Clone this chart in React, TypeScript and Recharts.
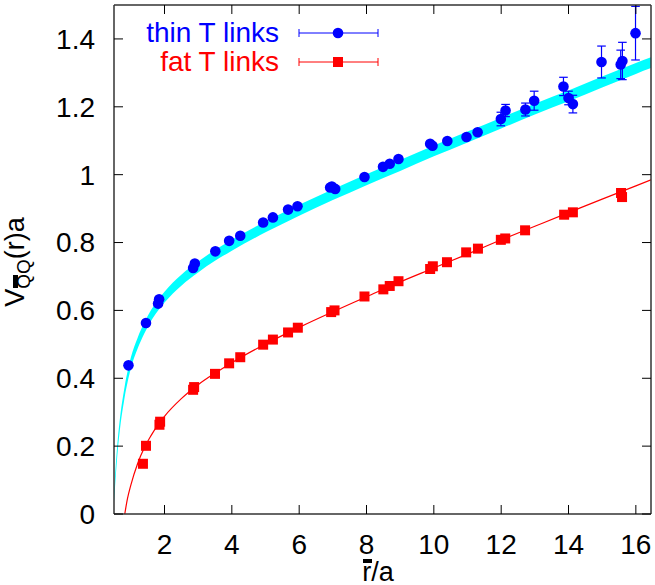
import React from 'react';
import { ComposedChart, XAxis, YAxis, Scatter, Line, Area, ErrorBar, Legend } from 'recharts';

// fit curves
const fitR = [0.5, 0.6, 0.7, 0.8, 0.82, 0.9, 1.0, 1.2, 1.4, 1.6, 1.8, 2, 2.5, 3, 3.5, 4, 5, 6, 7, 8, 9, 10, 11, 12, 13, 14, 15, 16, 16.45];
const thinFit = [0.05, 0.19, 0.285, 0.35, 0.362, 0.403, 0.445, 0.503, 0.548, 0.585, 0.614, 0.639, 0.689, 0.728, 0.762, 0.792, 0.846, 0.895, 0.941, 0.985, 1.027, 1.07, 1.111, 1.152, 1.193, 1.232, 1.273, 1.313, 1.33];
const fatFit = [null, null, null, null, 0, 0.045, 0.085, 0.148, 0.195, 0.231, 0.262, 0.288, 0.34, 0.381, 0.415, 0.446, 0.501, 0.55, 0.596, 0.64, 0.684, 0.725, 0.766, 0.808, 0.848, 0.888, 0.928, 0.967, 0.985];
const bandHalfWidth = 0.016;

// thin T links
const thinR = [0.93, 1.45, 1.81, 1.84, 2.85, 2.9, 3.51, 3.92, 4.25, 4.93, 5.22, 5.67, 5.95, 6.92, 6.97, 7.07, 7.94, 8.49, 8.69, 8.95, 9.89, 9.96, 10.4, 10.97, 11.3, 11.99, 12.13, 12.72, 12.98, 13.85, 14.0, 14.13, 14.98, 15.55, 15.6, 15.99];
const thinV = [0.438, 0.563, 0.62, 0.633, 0.725, 0.738, 0.774, 0.805, 0.82, 0.859, 0.874, 0.897, 0.907, 0.962, 0.965, 0.958, 0.993, 1.023, 1.032, 1.046, 1.091, 1.085, 1.099, 1.111, 1.125, 1.164, 1.189, 1.192, 1.218, 1.26, 1.226, 1.208, 1.332, 1.325, 1.335, 1.417];
const thinErr = [0, 0, 0, 0, 0, 0, 0, 0, 0, 0, 0, 0, 0, 0, 0, 0, 0, 0, 0, 0, 0, 0, 0, 0, 0, 0.02, 0.018, 0.019, 0.028, 0.027, 0.02, 0.026, 0.047, 0.042, 0.055, 0.079];

// fat T links
const fatR = [1.36, 1.45, 1.85, 1.87, 2.85, 2.88, 3.5, 3.92, 4.25, 4.93, 5.22, 5.67, 5.96, 6.95, 7.05, 7.94, 8.5, 8.69, 8.95, 9.89, 9.97, 10.39, 10.96, 11.31, 11.99, 12.12, 12.71, 13.87, 14.13, 15.56, 15.59];
const fatV = [0.148, 0.201, 0.263, 0.272, 0.366, 0.374, 0.413, 0.444, 0.462, 0.499, 0.514, 0.535, 0.549, 0.595, 0.6, 0.641, 0.662, 0.672, 0.686, 0.722, 0.73, 0.742, 0.771, 0.782, 0.808, 0.812, 0.836, 0.882, 0.889, 0.946, 0.934];

const xTicks = [2, 4, 6, 8, 10, 12, 14, 16];
const yTicks = [0, 0.2, 0.4, 0.6, 0.8, 1, 1.2, 1.4];
const legendLabels = ['thin T links', 'fat T links'];

const curveData = fitR.map((r, i) => ({
  r,
  band: [thinFit[i] - bandHalfWidth, thinFit[i] + bandHalfWidth],
  fat: fatFit[i],
}));
const thinData = thinR.map((r, i) => ({ r, v: thinV[i], err: thinErr[i] }));
const fatData = fatR.map((r, i) => ({ r, v: fatV[i] }));

const FONT = 'Liberation Sans, Arial, Helvetica, sans-serif';
const FS = 28;
const BLUE = '#0000ff';
const RED = '#ff0000';
const CYAN = '#00ffff';

const BlueDot = (p: any) => <circle cx={p.cx} cy={p.cy} r={5.3} fill={BLUE} />;
const RedSquare = (p: any) => <rect x={p.cx - 5} y={p.cy - 5} width={10} height={10} fill={RED} />;

const LegendBox = () => (
  <svg width={400} height={80} style={{ display: 'block' }}>
    <text x={279} y={42} textAnchor="end" fill={BLUE} fontSize={FS} fontFamily={FONT}>{legendLabels[0]}</text>
    <line x1={299} x2={378} y1={33} y2={33} stroke={BLUE} strokeWidth={1} />
    <line x1={299} x2={299} y1={29} y2={37} stroke={BLUE} strokeWidth={1} />
    <line x1={378} x2={378} y1={29} y2={37} stroke={BLUE} strokeWidth={1} />
    <circle cx={338} cy={33} r={5.3} fill={BLUE} />
    <text x={279} y={71} textAnchor="end" fill={RED} fontSize={FS} fontFamily={FONT}>{legendLabels[1]}</text>
    <line x1={299} x2={378} y1={62} y2={62} stroke={RED} strokeWidth={1} />
    <line x1={299} x2={299} y1={58} y2={66} stroke={RED} strokeWidth={1} />
    <line x1={378} x2={378} y1={58} y2={66} stroke={RED} strokeWidth={1} />
    <rect x={333} y={57} width={10} height={10} fill={RED} />
  </svg>
);

const YLabel = () => (
  <g transform="translate(24,262) rotate(-90)">
    <text x={0} y={0} textAnchor="middle" fontSize={27} fontFamily={FONT} fill="#000">
      <tspan>V</tspan>
      <tspan fontSize={19} dy={6}>QQ</tspan>
      <tspan dy={-6}>(r)a</tspan>
    </text>
    <rect x={-26} y={-11} width={13} height={5} fill="#000" />
  </g>
);

const XLabel = () => (
  <g>
    <text x={378} y={581} textAnchor="middle" fontSize={27} fontFamily={FONT} fill="#000">r/a</text>
    <rect x={363} y={559} width={9} height={4} fill="#000" />
  </g>
);

const tickStyle = { fontSize: FS, fill: '#000', fontFamily: FONT };
const axisLineStyle = { stroke: '#333', strokeWidth: 1.5 };
const tickLineStyle = { stroke: '#000', strokeWidth: 1 };

export default function App() {
  return (
    <div style={{ position: 'absolute', left: 0, top: 0, background: '#fff' }}>
      <ComposedChart width={655} height={585} data={curveData} margin={{ top: 4, right: 0, bottom: 0, left: 0 }}>
        <XAxis
          dataKey="r"
          type="number"
          domain={[0.5, 16.45]}
          allowDataOverflow
          ticks={xTicks}
          height={71}
          tickSize={-9}
          tickMargin={29}
          tick={tickStyle}
          tickLine={tickLineStyle}
          axisLine={axisLineStyle}
          label={<XLabel />}
        />
        <XAxis
          xAxisId="top"
          orientation="top"
          dataKey="r"
          type="number"
          domain={[0.5, 16.45]}
          allowDataOverflow
          ticks={xTicks}
          height={1}
          tickSize={-9}
          tickFormatter={() => ''}
          tickLine={tickLineStyle}
          axisLine={axisLineStyle}
        />
        <YAxis
          type="number"
          domain={[0, 1.5]}
          allowDataOverflow
          ticks={yTicks}
          width={114}
          tickSize={-9}
          tickMargin={28}
          tick={tickStyle}
          tickLine={tickLineStyle}
          axisLine={axisLineStyle}
          label={<YLabel />}
        />
        <YAxis
          yAxisId="right"
          orientation="right"
          type="number"
          domain={[0, 1.5]}
          allowDataOverflow
          ticks={yTicks}
          width={4}
          tickSize={-9}
          tickFormatter={() => ''}
          tickLine={tickLineStyle}
          axisLine={axisLineStyle}
        />
        <Legend
          verticalAlign="middle"
          align="center"
          layout="horizontal"
          content={() => <LegendBox />}
          wrapperStyle={{ position: 'absolute', top: 0, left: 0, width: 400, height: 80 }}
        />
        <Area dataKey="band" type="monotone" fill={CYAN} fillOpacity={1} stroke="none" isAnimationActive={false} legendType="none" />
        <Line dataKey="fat" type="monotone" stroke={RED} strokeWidth={1.2} dot={false} isAnimationActive={false} legendType="none" />
        <Scatter data={thinData} dataKey="v" shape={BlueDot} isAnimationActive={false} name="thin T links">
          <ErrorBar dataKey="err" direction="y" width={4.3} stroke={BLUE} strokeWidth={1.2} />
        </Scatter>
        <Scatter data={fatData} dataKey="v" shape={RedSquare} isAnimationActive={false} name="fat T links" />
      </ComposedChart>
    </div>
  );
}
